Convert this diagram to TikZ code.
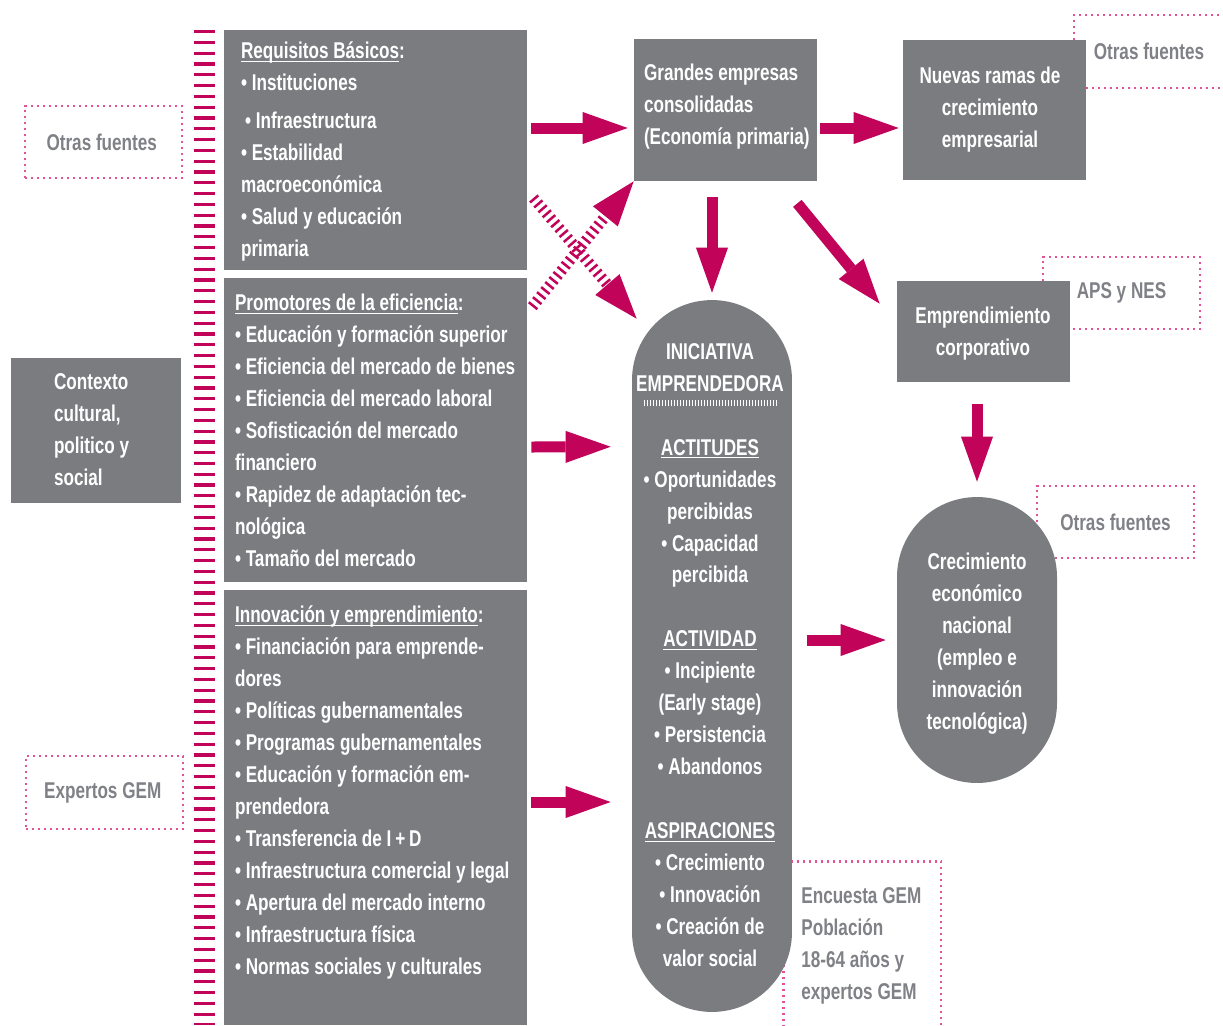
\documentclass[tikz,border=0pt]{standalone}
\usepackage{fontspec}
\setmainfont{Liberation Sans}[FakeStretch=0.75]
\usetikzlibrary{arrows.meta}
\definecolor{boxgrey}{RGB}{123,124,128}
\definecolor{gemred}{RGB}{193,4,89}
\definecolor{dotpink}{RGB}{228,82,150}
\definecolor{srcgrey}{RGB}{128,129,134}
\newcommand{\gemul}[1]{\underline{\smash{#1}}}

\begin{document}
\begin{tikzpicture}[
    x=0.02cm, y=-0.02cm,
    every node/.style={font=\bfseries\fontsize{13}{18.2}\selectfont},
	box/.style={
	  rectangle,
	  fill=boxgrey,
	  inner sep=0pt
	},
	pill/.style={
	  rectangle,
	  rounded corners=1.6cm,
	  minimum width=3.2cm,
	  fill=boxgrey,
	  inner sep=0pt
	},
	txt/.style={
	  text=white,
	  align=left,
	  anchor=base west,
	  inner sep=0pt
	},
	ctxt/.style={
	  text=white,
	  align=center,
	  anchor=base,
	  inner sep=0pt
	},
	fuente/.style={
	  rectangle,
	  draw=dotpink,
	  line width=0.05cm,
	  dash pattern=on 0.045cm off 0.075cm,
	  text=srcgrey,
	  inner sep=0pt
	},
 	line/.style={draw=gemred, line width=0.22cm, -{Triangle[length=0.9cm, width=0.64cm, line width=0pt]}},
 	hatched/.style={line, dash pattern=on 0.05cm off 0.08cm}
	]
	\useasboundingbox (0,0) rectangle (1223,1025);

	\node at (103.5,142) [fuente, minimum width=3.14cm, minimum height=1.44cm] (otras1) {Otras fuentes\hspace*{0.07cm}};
	\node at (104.5,792.5) [fuente, minimum width=3.14cm, minimum height=1.46cm] (expertos) {Expertos GEM\hspace*{0.07cm}};
	\node at (1149,51.5) [fuente, minimum width=3cm, minimum height=1.46cm] (otras2) {Otras fuentes};
	\node at (1121.5,293) [fuente, minimum width=3.14cm, minimum height=1.44cm] (aps) {APS y NES};
	\node at (1115.5,522) [fuente, minimum width=3.14cm, minimum height=1.44cm] (otras3) {Otras fuentes};
	\node at (782,860) [fuente, anchor=north west, minimum width=3.16cm, minimum height=3.6cm] (encuesta) {};
	\node at ([shift={(19,139)}]encuesta.north west) [txt, text=srcgrey] (enctext) {Encuesta GEM\\ Población\\ 18-64 años y\\ expertos GEM};

	\draw [gemred, line width=0.42cm, dash pattern=on 0.064cm off 0.152cm] (204.5,30) -- (204.5,1025);

	\node at (96,430.5) [box, minimum width=3.4cm, minimum height=2.9cm] (ctx) {};
	\node at ([shift={(43,128)}]ctx.north west) [txt] (ctxtext) {Contexto\\ cultural,\\ politico y\\ social};

	\node at (375.5,150) [box, minimum width=6.06cm, minimum height=4.8cm] (req) {};
	\node at ([shift={(17,227)}]req.north west) [txt] (reqtext) {\gemul{Requisitos Básicos}:\\ • Instituciones\\[0.12cm] \hspace*{0.08cm}• Infraestructura\\ • Estabilidad\\ macroeconómica\\ • Salud y educación\\ primaria};

	\node at (375.5,430) [box, minimum width=6.06cm, minimum height=6.08cm] (prom) {};
	\node at ([shift={(11,289)}]prom.north west) [txt] (promtext) {\gemul{Promotores de la eficiencia}:\\ • Educación y formación superior\\ • Eficiencia del mercado de bienes\\ • Eficiencia del mercado laboral\\ • Sofisticación del mercado\\ financiero\\ • Rapidez de adaptación tec-\\ nológica\\ • Tamaño del mercado};

	\node at (375.5,807.5) [box, minimum width=6.06cm, minimum height=8.7cm] (inno) {};
	\node at ([shift={(11,385)}]inno.north west) [txt] (innotext) {\gemul{Innovación y emprendimiento}:\\ • Financiación para emprende-\\ dores\\ • Políticas gubernamentales\\ • Programas gubernamentales\\ • Educación y formación em-\\ prendedora\\ • Transferencia de I\,+\,D\\ • Infraestructura comercial y legal\\ • Apertura del mercado interno\\ • Infraestructura física\\ • Normas sociales y culturales};

	\node at (725.5,110) [box, minimum width=3.66cm, minimum height=2.84cm] (gr) {};
	\node at ([shift={(10,106)}]gr.north west) [txt] (grtext) {Grandes empresas\\ consolidadas\\ (Economía primaria)};

	\node at (994.5,110) [box, minimum width=3.66cm, minimum height=2.8cm] (nue) {};
	\node at ([shift={(-4.5,37)}]nue.center) [ctxt] (nuetext) {Nuevas ramas de\\ crecimiento\\ empresarial};

	\node at (983.5,331.5) [box, minimum width=3.46cm, minimum height=2.02cm] (corp) {};
	\node at ([shift={(-0.5,23.5)}]corp.center) [ctxt] (corptext) {Emprendimiento\\ corporativo};

	\node at (977,640) [pill, minimum height=5.72cm] (crec) {};
	\node at ([shift={(0,89)}]crec.center) [ctxt] (crectext) {Crecimiento\\ económico\\ nacional\\ (empleo e\\ innovación\\ tecnológica)};

	\node at (712,656) [pill, minimum height=14.24cm] (ini) {};
	\node at ([shift={(-2,667)}]ini.north) [ctxt] (initext) {INICIATIVA\\ EMPRENDEDORA\\[0.64cm] \gemul{ACTITUDES}\\ • Oportunidades\\ percibidas\\ • Capacidad\\ percibida\\[0.64cm] \gemul{ACTIVIDAD}\\ • Incipiente\\ (Early stage)\\ • Persistencia\\ • Abandonos\\[0.64cm] \gemul{ASPIRACIONES}\\ • Crecimiento\\ • Innovación\\ • Creación de\\ valor social};
	\draw [white, line width=0.12cm, dash pattern=on 0.025cm off 0.035cm] ([shift={(-68,103)}]ini.north) -- ([shift={(66,103)}]ini.north);

	\path [line] ([shift={(4,-22)}]req.east) -- ([shift={(-6,18)}]gr.west);
	\path [line] ([shift={(3,18)}]gr.east) -- ([shift={(-4,18)}]nue.west);
	\path [line] ([shift={(-13.5,16)}]gr.south) -- ([shift={(0,-7)}]ini.north);
	\path [line] ([shift={(-20,22)}]gr.south east) -- ([shift={(-17,23)}]corp.north west);
	\path [line] ([shift={(-6.5,22)}]corp.south) -- ([shift={(0,-15)}]crec.north);
	\path [line] ([shift={(4,17)}]prom.east) -- ([shift={(-21,147)}]ini.north west);
	\path [line] ([shift={(4,-5.5)}]inno.east) -- ([shift={(-21,146)}]ini.west);
	\path [line] ([shift={(15,-16)}]ini.east) -- ([shift={(-11,0)}]crec.west);
	\path [hatched] ([shift={(5,29)}]prom.north east) -- (gr.south west);
	\path [hatched] ([shift={(6,48)}]req.east) -- ([shift={(5,19)}]ini.north west);
  \end{tikzpicture}
\end{document}
